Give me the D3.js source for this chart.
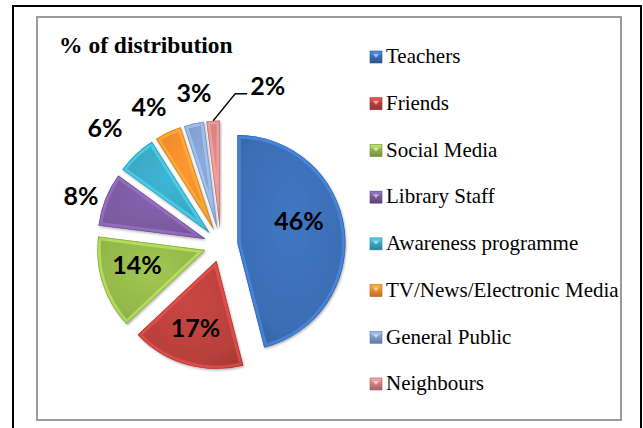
<!DOCTYPE html>
<html>
<head>
<meta charset="utf-8">
<script src="https://cdn.jsdelivr.net/npm/d3@7"></script>
<style>
  html, body { margin: 0; padding: 0; background: #fff; }
  svg { display: block; }
</style>
</head>
<body>
<svg id="chart" width="643" height="428"></svg>
<script>
// ---- data ----
const categories = ["Teachers", "Friends", "Social Media", "Library Staff",
  "Awareness programme", "TV/News/Electronic Media", "General Public", "Neighbours"];
const values = [46, 17, 14, 8, 6, 4, 3, 2];
const valueLabels = ["46%", "17%", "14%", "8%", "6%", "4%", "3%", "2%"];
const chartTitle = "% of distribution";

// ---- styles ----
const colors = ["#3a6db3", "#b8403c", "#93b64a", "#7a5a9e", "#3aa6c2", "#ee8a2c", "#809ccd", "#d08080"];
const serifFont = '"Liberation Serif"';
const labelFontFamily = '"Lato"';

const svg = d3.select("#chart");

// frames
svg.append("rect").attr("x", 13).attr("y", 6).attr("width", 628).attr("height", 440)
  .attr("fill", "none").attr("stroke", "#000").attr("stroke-width", 2);
svg.append("rect").attr("x", 37).attr("y", 17).attr("width", 584).attr("height", 403)
  .attr("fill", "#fff").attr("stroke", "#9a9a9a").attr("stroke-width", 2);

// title
svg.append("text").attr("x", 59).attr("y", 53)
  .style("font-family", serifFont).style("font-weight", "bold").style("font-size", "23.5px")
  .attr("fill", "#000").text(chartTitle);

const defs = svg.append("defs");
const filt = defs.append("filter").attr("id", "shadow").attr("x", "-20%").attr("y", "-20%")
  .attr("width", "140%").attr("height", "140%");
filt.append("feDropShadow").attr("dx", 1).attr("dy", 1.5).attr("stdDeviation", 1.2)
  .attr("flood-color", "#555").attr("flood-opacity", 0.45);

colors.forEach((c, i) => {
  const g = defs.append("radialGradient").attr("id", "grad" + i)
    .attr("cx", "50%").attr("cy", "40%").attr("r", "75%");
  g.append("stop").attr("offset", "0%").attr("stop-color", d3.color(c).brighter(0.25));
  g.append("stop").attr("offset", "70%").attr("stop-color", c);
  g.append("stop").attr("offset", "100%").attr("stop-color", d3.color(c).darker(0.45));
  const lg = defs.append("linearGradient").attr("id", "lgrad" + i)
    .attr("x1", 0).attr("y1", 0).attr("x2", 0).attr("y2", 1);
  lg.append("stop").attr("offset", "0%").attr("stop-color", d3.color(c).brighter(0.8));
  lg.append("stop").attr("offset", "45%").attr("stop-color", c);
  lg.append("stop").attr("offset", "100%").attr("stop-color", d3.color(c).darker(0.7));
});

// ---- pie ----
const cx = 221, cy = 245, R = 108, explode = 16.5;
const pie = d3.pie().sort(null).value(d => d)(values);
const arc = d3.arc().innerRadius(0).outerRadius(R);
const dirOf = d => { const a = (d.startAngle + d.endAngle) / 2; return [Math.sin(a), -Math.cos(a)]; };

const pieG = svg.append("g").attr("transform", `translate(${cx},${cy})`);
const slices = pieG.selectAll("g.slice").data(pie).join("g").attr("class", "slice")
  .attr("transform", d => { const [dx, dy] = dirOf(d); return `translate(${dx * explode},${dy * explode})`; });

slices.each(function (d, i) {
  const g = d3.select(this);
  const path = arc(d);
  const clipId = "clip" + i;
  defs.append("clipPath").attr("id", clipId).append("path").attr("d", path);
  g.append("path").attr("d", path).attr("fill", `url(#grad${i})`).attr("filter", "url(#shadow)");
  g.append("path").attr("d", path).attr("fill", "none")
    .attr("stroke", d3.color(colors[i]).brighter(0.9)).attr("stroke-opacity", 0.55)
    .attr("stroke-width", 7).attr("clip-path", `url(#${clipId})`);
  g.append("path").attr("d", path).attr("fill", "none")
    .attr("stroke", d3.color(colors[i]).darker(0.6)).attr("stroke-opacity", 0.7)
    .attr("stroke-width", 1.4).attr("clip-path", `url(#${clipId})`);
});

// ---- data labels ----
const labelSize = 25;
const capHalf = labelSize * 0.36;
// label centre: radial distance from pie centre and angular shift from slice mid-angle
const labelRadius = [81.6, 86.8, 86.3, 148.3, 164.8, 155.7, 154.4];
const labelTurn = [-0.173, 0.016, 0.08, -0.04, -0.027, -0.041, 0.044];
pie.forEach((d, i) => {
  if (i >= labelRadius.length) return;
  const a = (d.startAngle + d.endAngle) / 2 + labelTurn[i];
  const x = cx + Math.sin(a) * labelRadius[i];
  const y = cy - Math.cos(a) * labelRadius[i];
  svg.append("text").attr("x", x).attr("y", y + capHalf)
    .attr("text-anchor", "middle")
    .style("font-family", labelFontFamily).style("font-weight", "bold").style("font-size", labelSize + "px")
    .attr("fill", "#000").text(valueLabels[i]);
});

// leader label for smallest slice
{
  const i = values.length - 1, d = pie[i];
  const [dx, dy] = dirOf(d);
  const sx = cx + dx * (R + explode), sy = cy + dy * (R + explode);
  const ex = sx + 22, ey = sy - 27;
  const fx = ex + 12;
  svg.append("path").attr("d", `M${sx},${sy}L${ex},${ey}L${fx},${ey}`)
    .attr("fill", "none").attr("stroke", "#000").attr("stroke-width", 1.3);
  svg.append("text").attr("x", fx + 3).attr("y", ey + 1)
    .style("font-family", labelFontFamily).style("font-weight", "bold").style("font-size", labelSize + "px")
    .attr("fill", "#000").text(valueLabels[i]);
}

// ---- legend ----
const legendY = d3.scalePoint().domain(categories).range([51, 378]);
const leg = svg.append("g").selectAll("g").data(categories).join("g")
  .attr("transform", d => `translate(370,${legendY(d)})`);
leg.append("rect").attr("width", 12).attr("height", 12)
  .attr("fill", (d, i) => `url(#lgrad${i})`)
  .attr("stroke", (d, i) => d3.color(colors[i]).darker(0.8)).attr("stroke-width", 0.6);
leg.append("path").attr("d", "M3,3L9,3L6,7Z").attr("fill", "#fff").attr("fill-opacity", 0.55);
leg.append("text").attr("x", 16).attr("y", 12.3)
  .style("font-family", serifFont).style("font-size", "21px")
  .attr("fill", "#000").text(d => d);
</script>
</body>
</html>
